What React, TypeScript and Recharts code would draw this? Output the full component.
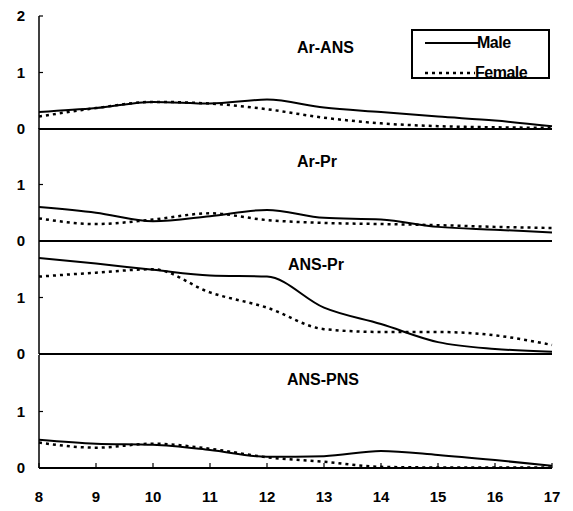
import { LineChart, Line, XAxis, YAxis } from 'recharts'

const ages = [8, 9, 10, 11, 12, 13, 14, 15, 16, 17]

const arAnsMale = [0.3, 0.37, 0.48, 0.45, 0.52, 0.38, 0.3, 0.22, 0.15, 0.05]
const arAnsFemale = [0.22, 0.37, 0.48, 0.45, 0.35, 0.2, 0.1, 0.05, 0.03, 0.02]

const arPrMale = [0.6, 0.5, 0.35, 0.44, 0.55, 0.41, 0.38, 0.25, 0.2, 0.15]
const arPrFemale = [0.4, 0.3, 0.38, 0.49, 0.37, 0.32, 0.3, 0.28, 0.25, 0.23]

const ansPrMale = [1.7, 1.6, 1.49, 1.39, 1.37, 0.82, 0.53, 0.21, 0.09, 0.04]
const ansPrFemale = [1.37, 1.44, 1.5, 1.09, 0.82, 0.44, 0.39, 0.39, 0.33, 0.16]

const ansPnsMale = [0.5, 0.43, 0.41, 0.32, 0.2, 0.21, 0.3, 0.23, 0.14, 0.04]
const ansPnsFemale = [0.45, 0.36, 0.43, 0.34, 0.19, 0.11, 0.02, 0.01, 0.01, 0.01]

const panels = [
  { title: 'Ar-ANS', male: arAnsMale, female: arAnsFemale, top: 16, titleX: 297, titleY: 48 },
  { title: 'Ar-Pr', male: arPrMale, female: arPrFemale, top: 128, titleX: 297, titleY: 162 },
  { title: 'ANS-Pr', male: ansPrMale, female: ansPrFemale, top: 241, titleX: 288, titleY: 265 },
  { title: 'ANS-PNS', male: ansPnsMale, female: ansPnsFemale, top: 355, titleX: 287, titleY: 380 },
]

const font = '"Liberation Sans", Arial, sans-serif'
const tickFont = { fill: '#000', fontSize: 15, fontWeight: 700, fontFamily: font }

function Panel({ p, first, last }: any) {
  const data = ages.map((age, i) => ({ age, male: p.male[i], female: p.female[i] }))
  return (
    <div style={{ position: 'absolute', left: 0, top: p.top - 15 }}>
      <LineChart
        width={573}
        height={15 + 113 + 45}
        data={data}
        margin={{ top: 15, right: 21, bottom: 0, left: 0 }}
      >
        <XAxis
          dataKey="age"
          type="number"
          domain={[8, 17]}
          ticks={ages}
          height={45}
          tickSize={-5}
          tickMargin={28}
          tick={last ? tickFont : false}
          axisLine={{ stroke: '#000', strokeWidth: 2 }}
          tickLine={{ stroke: '#000', strokeWidth: 1.2 }}
        />
        <XAxis
          xAxisId="top"
          orientation="top"
          dataKey="age"
          type="number"
          domain={[8, 17]}
          height={0}
          tick={false}
          tickLine={false}
          axisLine={{ stroke: '#000', strokeWidth: 1.5 }}
        />
        <YAxis
          domain={[0, 2]}
          ticks={first ? [0, 1, 2] : [0, 1]}
          width={39}
          tickSize={-4}
          tickMargin={18}
          tick={tickFont}
          axisLine={{ stroke: '#000', strokeWidth: 1.5 }}
          tickLine={{ stroke: '#000', strokeWidth: 1.2 }}
        />
        <YAxis
          yAxisId="right"
          orientation="right"
          domain={[0, 2]}
          width={0}
          tick={false}
          tickLine={false}
          axisLine={{ stroke: '#000', strokeWidth: 1.5 }}
        />
        <Line
          dataKey="male"
          type="monotone"
          stroke="#000"
          strokeWidth={2}
          dot={false}
          isAnimationActive={false}
        />
        <Line
          dataKey="female"
          type="monotone"
          stroke="#000"
          strokeWidth={2.5}
          strokeDasharray="3 4"
          dot={false}
          isAnimationActive={false}
        />
      </LineChart>
      <div
        style={{
          position: 'absolute',
          left: p.titleX,
          top: p.titleY - p.top + 15 - 10,
          fontFamily: font,
          fontWeight: 700,
          fontSize: 16,
          lineHeight: '20px',
          whiteSpace: 'nowrap',
        }}
      >
        {p.title}
      </div>
    </div>
  )
}

export default function App() {
  return (
    <div style={{ position: 'absolute', left: 0, top: 0, width: 573, height: 511, background: '#fff' }}>
      {panels.map((p, i) => (
        <Panel key={p.title} p={p} first={i === 0} last={i === panels.length - 1} />
      ))}
      <div
        style={{
          position: 'absolute',
          left: 411,
          top: 29,
          width: 139,
          height: 50,
          border: '2px solid #000',
          boxSizing: 'border-box',
          background: '#fff',
          fontFamily: font,
          fontWeight: 700,
          fontSize: 16,
          lineHeight: '18px',
        }}
      >
        <svg width={60} height={46} style={{ position: 'absolute', left: 10, top: 0 }}>
          <line x1={2} y1={12} x2={56} y2={12} stroke="#000" strokeWidth={2} />
          <line x1={2} y1={42} x2={52} y2={42} stroke="#000" strokeWidth={2.5} strokeDasharray="3 4" />
        </svg>
        <div style={{ position: 'absolute', left: 64, top: 3, letterSpacing: -0.5 }}>Male</div>
        <div style={{ position: 'absolute', left: 62, top: 33, letterSpacing: -0.5 }}>Female</div>
      </div>
    </div>
  )
}
